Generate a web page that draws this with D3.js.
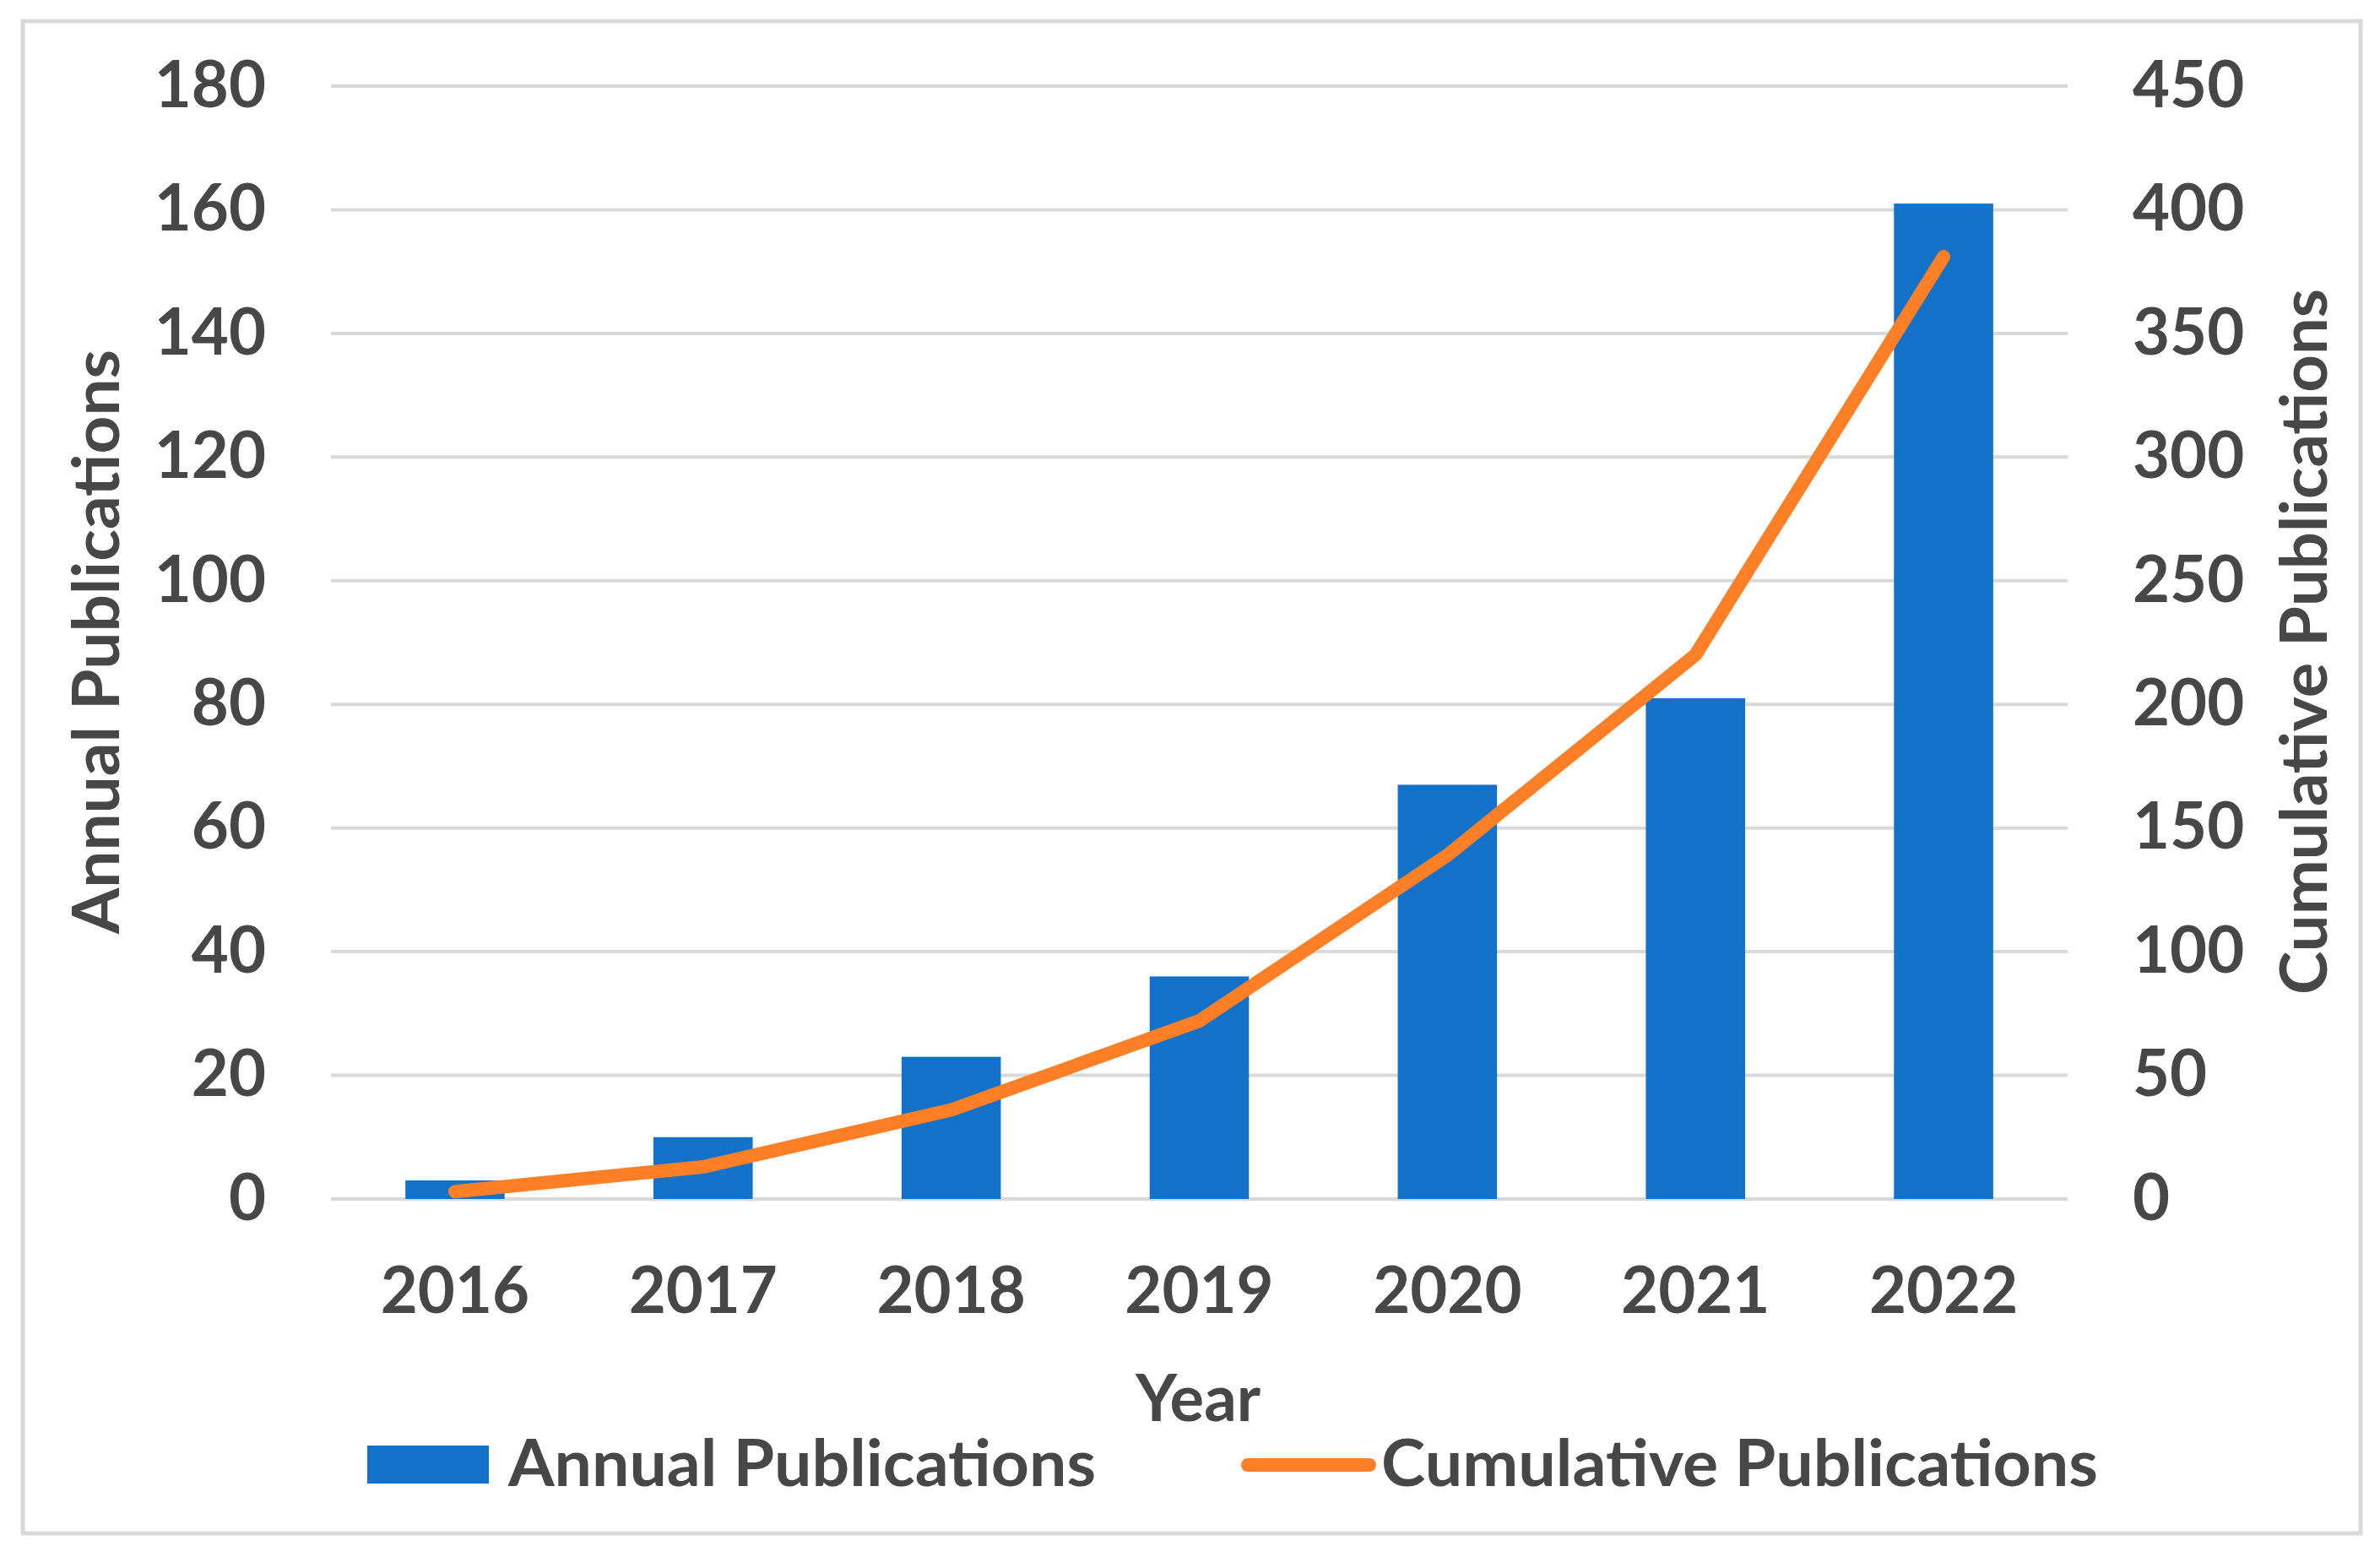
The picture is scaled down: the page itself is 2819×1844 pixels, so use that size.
<!DOCTYPE html>
<html>
<head>
<meta charset="utf-8">
<script src="https://cdn.jsdelivr.net/npm/d3@7"></script>
<style>
  html, body { margin: 0; padding: 0; background: #ffffff; }
  svg { display: block; }
  text { font-family: Lato, "Open Sans", sans-serif; fill: #474747; font-weight: 700; }
</style>
</head>
<body>
<script>
const years = ["2016", "2017", "2018", "2019", "2020", "2021", "2022"];
const annual = [3, 10, 23, 36, 67, 81, 161];
const cumulative = [3, 13, 36, 72, 139, 220, 381];
const leftTicks = [0, 20, 40, 60, 80, 100, 120, 140, 160, 180];
const rightTicks = [0, 50, 100, 150, 200, 250, 300, 350, 400, 450];
const seriesNames = ["Annual Publications", "Cumulative Publications"];
const axisTitles = { left: "Annual Publications", right: "Cumulative Publications", bottom: "Year" };

const W = 2819, H = 1844;
const FS = 76;
const TXT = "#474747";
const blue = "#1271C9", orange = "#FF7F27", grid = "#D9D9D9";
const plot = { left: 392, right: 2449, top: 102, bottom: 1420 };

const svg = d3.select("body").append("svg").attr("width", W).attr("height", H);

// outer border
svg.append("rect").attr("x", 27).attr("y", 25).attr("width", 2769).attr("height", 1791)
  .attr("fill", "#ffffff").attr("stroke", grid).attr("stroke-width", 5);

const x = d3.scaleBand().domain(years).range([plot.left, plot.right]).paddingInner(0.6).paddingOuter(0.3);
const yL = d3.scaleLinear().domain([0, 180]).range([plot.bottom, plot.top]);
const yR = d3.scaleLinear().domain([0, 450]).range([plot.bottom, plot.top]);

// gridlines
svg.append("g").selectAll("line").data(leftTicks).join("line")
  .attr("x1", plot.left).attr("x2", plot.right)
  .attr("y1", d => yL(d)).attr("y2", d => yL(d))
  .attr("stroke", grid).attr("stroke-width", 4);

// bars
svg.append("g").selectAll("rect").data(years).join("rect")
  .attr("x", d => x(d)).attr("width", x.bandwidth())
  .attr("y", (d, i) => yL(annual[i]))
  .attr("height", (d, i) => yL(0) - yL(annual[i]))
  .attr("fill", blue);

// line
const line = d3.line().x((d, i) => x(years[i]) + x.bandwidth() / 2).y(d => yR(d));
svg.append("path").datum(cumulative).attr("d", line)
  .attr("fill", "none").attr("stroke", orange).attr("stroke-width", 16)
  .attr("stroke-linecap", "round").attr("stroke-linejoin", "round");

// axes
function styleAxis(g) {
  g.select(".domain").remove();
  g.selectAll("line").remove();
  g.selectAll("text").attr("font-size", FS).style("font-family", "Lato, sans-serif")
    .style("font-weight", 700).attr("fill", TXT);
}
svg.append("g").attr("transform", `translate(${plot.left},0)`)
  .call(d3.axisLeft(yL).tickValues(leftTicks).tickSize(0).tickPadding(77))
  .call(styleAxis);
svg.append("g").attr("transform", `translate(${plot.right},0)`)
  .call(d3.axisRight(yR).tickValues(rightTicks).tickSize(0).tickPadding(77))
  .call(styleAxis);
svg.append("g").attr("transform", `translate(0,${plot.bottom})`)
  .call(d3.axisBottom(x).tickSize(0).tickPadding(81))
  .call(styleAxis);

// axis titles
svg.append("text").attr("transform", "translate(141,760) rotate(-90)")
  .attr("text-anchor", "middle").attr("font-size", FS)
  .attr("textLength", 692).attr("lengthAdjust", "spacingAndGlyphs")
  .text(axisTitles.left);
svg.append("text").attr("transform", "translate(2756,760) rotate(-90)")
  .attr("text-anchor", "middle").attr("font-size", FS)
  .attr("textLength", 836).attr("lengthAdjust", "spacingAndGlyphs")
  .text(axisTitles.right);
svg.append("text").attr("x", 1419).attr("y", 1683)
  .attr("text-anchor", "middle").attr("font-size", FS)
  .text(axisTitles.bottom);

// legend
const lg = svg.append("g");
lg.append("rect").attr("x", 435).attr("y", 1712).attr("width", 144).attr("height", 45).attr("fill", blue);
lg.append("text").attr("x", 602).attr("y", 1760).attr("font-size", FS)
  .attr("textLength", 696).attr("lengthAdjust", "spacingAndGlyphs").text(seriesNames[0]);
lg.append("line").attr("x1", 1478).attr("x2", 1622).attr("y1", 1735).attr("y2", 1735)
  .attr("stroke", orange).attr("stroke-width", 16).attr("stroke-linecap", "round");
lg.append("text").attr("x", 1636).attr("y", 1760).attr("font-size", FS)
  .attr("textLength", 849).attr("lengthAdjust", "spacingAndGlyphs").text(seriesNames[1]);
</script>
</body>
</html>
